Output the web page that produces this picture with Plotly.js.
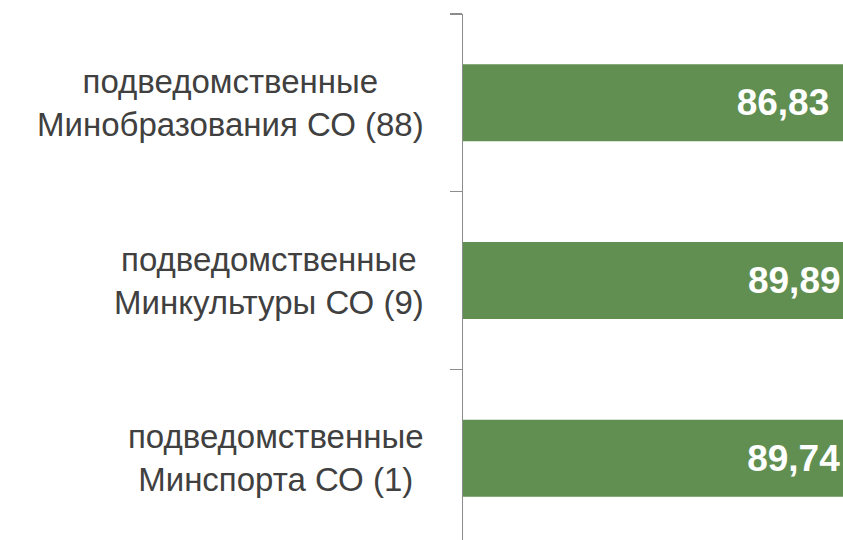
<!DOCTYPE html>
<html>
<head>
<meta charset="utf-8">
<script src="https://cdn.plot.ly/plotly-3.0.1.min.js"></script>
<style>
html, body { margin: 0; padding: 0; overflow: hidden; background: #ffffff; width: 843px; height: 540px; }
#chart { width: 1200px; height: 560px; }
</style>
</head>
<body>
<div id="chart"></div>
<script>
const categories = [
  'подведомственные<br>Минобразования СО (88)',
  'подведомственные<br>Минкультуры СО (9)',
  'подведомственные<br>Минспорта СО (1)'
];
const values = [86.83, 89.89, 89.74];

const barColor = '#618f52';
const labelColor = '#404040';

const trace = {
  type: 'bar',
  orientation: 'h',
  x: values,
  y: categories,
  marker: { color: barColor, line: { width: 0 } },
  texttemplate: '%{x:.2f}',
  textposition: 'inside',
  insidetextanchor: 'middle',
  textfont: { family: 'Liberation Sans, Arial, sans-serif', size: 37, color: '#ffffff', weight: 'bold' },
  hoverinfo: 'none'
};

const annotations = categories.map(c => ({
  xref: 'paper', yref: 'y',
  x: 0, y: c,
  xanchor: 'right', yanchor: 'middle',
  xshift: -37,
  text: c,
  align: 'center',
  showarrow: false,
  font: { family: 'Liberation Sans, Arial, sans-serif', size: 33, color: labelColor }
}));

const layout = {
  width: 1200,
  height: 560,
  margin: { l: 463, r: 0, t: 14, b: 13 },
  paper_bgcolor: '#ffffff',
  plot_bgcolor: '#ffffff',
  separators: ', ',
  showlegend: false,
  bargap: 0.567,
  xaxis: {
    range: [0, 100],
    visible: false,
    showgrid: false,
    zeroline: false,
    fixedrange: true
  },
  yaxis: {
    type: 'category',
    autorange: 'reversed',
    showticklabels: false,
    showgrid: false,
    zeroline: false,
    showline: true,
    linecolor: '#8c8c8c',
    linewidth: 1.5,
    ticks: 'outside',
    tickson: 'boundaries',
    ticklen: 12,
    tickwidth: 1.5,
    tickcolor: '#8c8c8c',
    fixedrange: true
  },
  annotations: annotations
};

Plotly.newPlot('chart', [trace], layout, { displayModeBar: false, staticPlot: true });
</script>
</body>
</html>
